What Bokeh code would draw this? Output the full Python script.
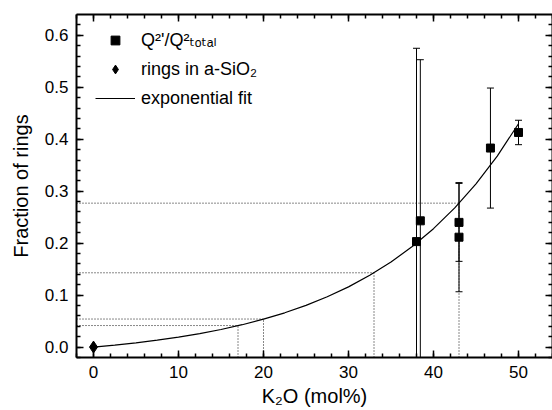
from bokeh.plotting import figure
from bokeh.models import (ColumnDataSource, Whisker, TeeHead, LinearAxis, Legend, LegendItem,
                          NumeralTickFormatter, Range1d, SingleIntervalTicker,
                          CustomJSTickFormatter)
from bokeh.embed import file_html
from bokeh.resources import INLINE

# ---------------- data ----------------
sq_x = [38.0, 38.45, 43.0, 43.0, 46.7, 50.0]
sq_y = [0.203, 0.243, 0.240, 0.2115, 0.383, 0.413]
sq_err = [0.372, 0.310, 0.075, 0.105, 0.1155, 0.0235]

ring_x = [0.0]
ring_y = [0.0]

fit_x = [0, 2.5, 5, 7.5, 10, 12.5, 15, 17.5, 20, 22.5, 25, 27.5, 30, 32.5, 35,
         37.5, 40, 42.5, 45, 47.5, 50]
fit_y = [0.0, 0.0038, 0.0082, 0.0133, 0.0192, 0.0260, 0.0339, 0.0431, 0.0537,
         0.0660, 0.0803, 0.0968, 0.1159, 0.1381, 0.1637, 0.1935, 0.2279, 0.2678,
         0.3141, 0.3676, 0.4297]

ref_x = [17, 20, 33, 43]
ref_y = [0.0415, 0.0540, 0.1430, 0.2770]

x_tick_step = 10
y_tick_step = 0.1
X_MIN, X_MAX = -2, 54
Y_MIN, Y_MAX = -0.02, 0.64

x_label = "K\u2082O (mol%)"
y_label = "Fraction of rings"
legend_labels = ["Q\u00b2'/Q\u00b2\u209c\u2092\u209c\u2090\u2097", "rings in a-SiO\u2082", "exponential fit"]

FONT = "Liberation Sans"

# ---------------- figure ----------------
p = figure(width=552, height=410, x_range=Range1d(X_MIN, X_MAX), y_range=Range1d(Y_MIN, Y_MAX),
           output_backend="svg", toolbar_location=None,
           min_border_left=76, min_border_right=0, min_border_top=14, min_border_bottom=53,
           x_axis_label=x_label, y_axis_label=y_label)
p.grid.visible = False
p.outline_line_color = None
p.background_fill_color = "white"
p.border_fill_color = "white"

bottom = p.below[0]
left = p.left[0]

xt = SingleIntervalTicker(interval=x_tick_step, num_minor_ticks=5)
yt = SingleIntervalTicker(interval=y_tick_step, num_minor_ticks=5)
bottom.ticker = xt
left.ticker = yt
left.formatter = NumeralTickFormatter(format="0.0")

blank = CustomJSTickFormatter(code="return ''")
top = LinearAxis(ticker=xt, formatter=blank)
right = LinearAxis(ticker=yt, formatter=blank)
p.add_layout(top, "above")
p.add_layout(right, "right")


def style(ax, labels):
    ax.axis_line_width = 2
    ax.axis_line_color = "black"
    ax.major_tick_in = 7
    ax.major_tick_out = 0
    ax.minor_tick_in = 4
    ax.minor_tick_out = 0
    ax.major_tick_line_width = 1.5
    ax.minor_tick_line_width = 1.5
    ax.major_tick_line_color = "black"
    ax.minor_tick_line_color = "black"
    if labels:
        ax.major_label_text_font = FONT
        ax.major_label_text_font_size = "17px"
        ax.major_label_text_color = "black"
        ax.major_label_standoff = 8
        ax.axis_label_text_font = FONT
        ax.axis_label_text_font_size = "20px"
        ax.axis_label_text_font_style = "normal"
        ax.axis_label_text_color = "black"
    else:
        ax.major_label_standoff = 0


style(bottom, True)
style(left, True)
style(top, False)
style(right, False)
bottom.axis_label_standoff = 4
left.axis_label_standoff = 10

# dotted guide lines
p.segment(x0=[X_MIN] * len(ref_x), y0=ref_y, x1=ref_x, y1=ref_y,
          line_color="#111111", line_width=1, line_dash="1 2")
p.segment(x0=ref_x, y0=[Y_MIN] * len(ref_x), x1=ref_x, y1=ref_y,
          line_color="#111111", line_width=1, line_dash="1 2")

# fit curve
fit_r = p.line(fit_x, fit_y, line_color="black", line_width=1.2)

# error bars
src = ColumnDataSource(dict(x=sq_x,
                            upper=[y + e for y, e in zip(sq_y, sq_err)],
                            lower=[y - e for y, e in zip(sq_y, sq_err)]))
w = Whisker(base="x", upper="upper", lower="lower", source=src,
            line_color="black", line_width=1,
            upper_head=TeeHead(size=7, line_width=1, line_color="black"),
            lower_head=TeeHead(size=7, line_width=1, line_color="black"))
p.add_layout(w)

sq_r = p.scatter(sq_x, sq_y, marker="square", size=8, color="black")
ring_r = p.scatter(ring_x, ring_y, marker="diamond", size=12, color="black")

legend = Legend(items=[LegendItem(label=legend_labels[0], renderers=[sq_r]),
                       LegendItem(label=legend_labels[1], renderers=[ring_r]),
                       LegendItem(label=legend_labels[2], renderers=[fit_r])],
                location=(19, 248), margin=0, padding=0,
                glyph_width=40, glyph_height=22, label_height=22, spacing=7,
                label_standoff=6, border_line_alpha=0, background_fill_alpha=0,
                label_text_font="Liberation Sans, DejaVu Sans", label_text_font_size="18px",
                label_text_color="black")
p.add_layout(legend)

open("out.html", "w").write(file_html(p, INLINE))
